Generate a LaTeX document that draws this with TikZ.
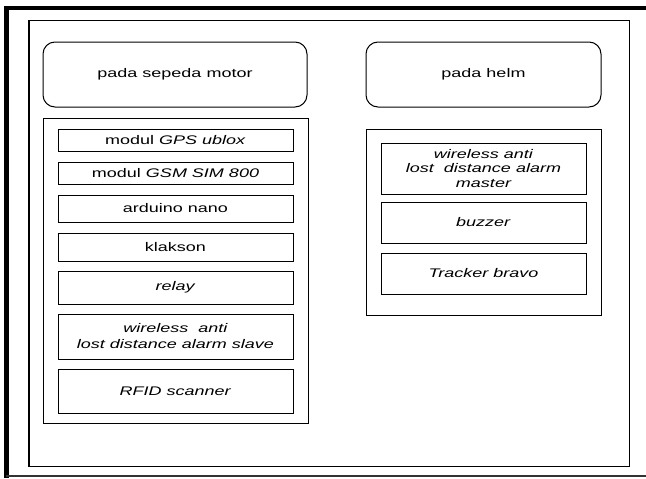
\documentclass[tikz,border=0pt]{standalone}
\usepackage{fontspec}
\newfontfamily\wf[FakeStretch=1.44]{Liberation Sans}
\begin{document}
\begin{tikzpicture}[x=1pt,y=-1pt,
  every node/.style={font=\wf\fontsize{12.5}{15}\selectfont, align=center, inner sep=0pt},
  frame/.style={draw, line width=1pt},
  header/.style={draw, line width=1pt, rounded corners=12pt},
  item/.style={draw, line width=1pt}]
\useasboundingbox (0,0) rectangle (646,479);
% outer frame
\draw[line width=3.8pt] (4,8) -- (646,8);
\draw[line width=4.5pt] (6.5,6.1) -- (6.5,478);
\draw[line width=1.8pt, black!80] (6,476) -- (646,476);
% inner frame
\draw[line width=1.2pt] (29,20.7) rectangle (629.5,466.7);
% left column
\node[header, minimum width=264pt, minimum height=65pt] (hL) at (175,74.5) {pada sepeda motor};
\node[frame, minimum width=265pt, minimum height=305pt] (cL) at (175.5,270.5) {};
\node[item, minimum width=235pt, minimum height=22pt] (gps) at (175.5,140) {modul \textit{GPS ublox}};
\node[item, minimum width=235pt, minimum height=22pt] (gsm) at (175.5,173) {modul \textit{GSM SIM 800}};
\node[item, minimum width=235pt, minimum height=27pt] (ard) at (175.5,208.5) {arduino nano};
\node[item, minimum width=235pt, minimum height=28pt] (kla) at (175.5,247) {klakson};
\node[item, minimum width=235pt, minimum height=33pt] (rel) at (175.5,287.5) {\textit{relay}};
\node[item, minimum width=235pt, minimum height=45pt, font=\wf\fontsize{12.5}{16}\selectfont\itshape] (wls) at (175.5,336.5) {wireless\ \ anti\\lost distance alarm slave};
\node[item, minimum width=235pt, minimum height=44pt] (rfid) at (175.5,391) {\textit{RFID scanner}};
% right column
\node[header, minimum width=235pt, minimum height=65pt] (hR) at (483.5,74.5) {pada helm};
\node[frame, minimum width=235pt, minimum height=186pt] (cR) at (483.5,222) {};
\node[item, minimum width=205pt, minimum height=51pt, font=\wf\fontsize{12.5}{14.5}\selectfont\itshape] (wlm) at (483.5,168.5) {wireless anti\\lost\ \ distance alarm\\master};
\node[item, minimum width=205pt, minimum height=41pt] (buz) at (483.5,222.5) {\textit{buzzer}};
\node[item, minimum width=205pt, minimum height=41pt] (trk) at (483.5,273.5) {\textit{Tracker bravo}};
\end{tikzpicture}
\end{document}
